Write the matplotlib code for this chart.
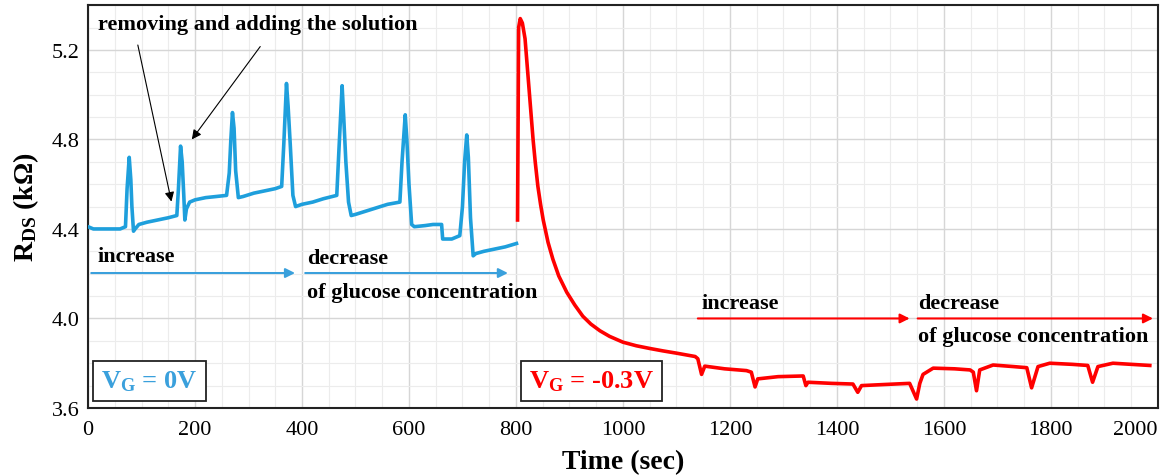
import matplotlib.pyplot as plt
from matplotlib.ticker import MultipleLocator

plt.rcParams['font.family'] = ['Liberation Serif', 'DejaVu Serif']
plt.rcParams['mathtext.fontset'] = 'custom'
plt.rcParams['mathtext.rm'] = 'Liberation Serif'
plt.rcParams['mathtext.bf'] = 'Liberation Serif:bold'
plt.rcParams['mathtext.it'] = 'Liberation Serif:italic'

# V_G = 0V segment
t_blue = [0, 10, 30, 60, 70, 73, 77, 80, 82, 85, 88, 95, 110, 130, 150, 166,
          169, 173, 176, 179, 181, 184, 190, 200, 220, 240, 259, 264, 267, 270,
          273, 276, 281, 290, 310, 330, 350, 362, 366, 371, 374, 378, 383, 388,
          400, 420, 440, 465, 469, 475, 478, 482, 487, 492, 500, 520, 540, 560,
          583, 587, 593, 596, 600, 605, 610, 630, 645, 661, 663, 680, 695, 700,
          704, 708, 711, 715, 720, 725, 740, 760, 780, 801]
r_blue = [4.41, 4.40, 4.40, 4.40, 4.41, 4.58, 4.72, 4.62, 4.50, 4.39, 4.40, 4.42,
          4.43, 4.44, 4.45, 4.46, 4.58, 4.77, 4.70, 4.55, 4.44, 4.49, 4.52, 4.53,
          4.54, 4.545, 4.55, 4.65, 4.80, 4.92, 4.85, 4.66, 4.54, 4.545, 4.56, 4.57,
          4.58, 4.59, 4.78, 5.05, 4.95, 4.78, 4.55, 4.50, 4.51, 4.52, 4.535, 4.55,
          4.75, 5.04, 4.90, 4.70, 4.52, 4.46, 4.465, 4.48, 4.495, 4.51, 4.52, 4.70,
          4.91, 4.80, 4.60, 4.42, 4.41, 4.415, 4.42, 4.42, 4.355, 4.355, 4.37, 4.50,
          4.70, 4.82, 4.72, 4.45, 4.28, 4.29, 4.30, 4.31, 4.32, 4.335]

# V_G = -0.3V segment
t_red = [803, 805, 808, 812, 817, 820, 826, 832, 836, 841, 846, 851, 860, 869,
         880, 895, 910, 925, 940, 957, 975, 1000, 1025, 1050, 1075, 1100, 1135,
         1140, 1147, 1153, 1190, 1231, 1240, 1247, 1252, 1290, 1337, 1342, 1346,
         1390, 1430, 1439, 1446, 1490, 1536, 1549, 1555, 1561, 1580, 1620, 1649,
         1655, 1661, 1667, 1692, 1730, 1755, 1764, 1776, 1798, 1840, 1869, 1878,
         1888, 1916, 1950, 1985]
r_red = [4.44, 5.30, 5.34, 5.32, 5.25, 5.16, 4.98, 4.80, 4.70, 4.59, 4.51, 4.44,
         4.34, 4.265, 4.19, 4.117, 4.06, 4.01, 3.975, 3.945, 3.92, 3.894, 3.878,
         3.866, 3.855, 3.845, 3.83, 3.82, 3.75, 3.787, 3.775, 3.767, 3.76, 3.694,
         3.73, 3.74, 3.743, 3.70, 3.715, 3.71, 3.707, 3.67, 3.70, 3.705, 3.71,
         3.64, 3.71, 3.75, 3.778, 3.775, 3.77, 3.76, 3.677, 3.77, 3.792, 3.785,
         3.78, 3.69, 3.785, 3.80, 3.795, 3.79, 3.715, 3.785, 3.80, 3.795, 3.79]

blue = '#1e9fdc'
red = '#ff0000'

fig = plt.figure(figsize=(11.66, 4.77), dpi=100)
ax = fig.add_axes([0.0755, 0.1426, 0.9175, 0.8445])

ax.plot(t_blue, r_blue, color=blue, lw=2.6, zorder=3)
ax.plot(t_red, r_red, color=red, lw=2.6, zorder=3)

ax.set_xlim(0, 2000)
ax.set_ylim(3.6, 5.4)
ax.set_xticks(range(0, 2001, 200))
ax.xaxis.set_minor_locator(MultipleLocator(50))
ax.yaxis.set_major_locator(MultipleLocator(0.4))
ax.yaxis.set_minor_locator(MultipleLocator(0.1))
ax.grid(which='major', color='#d6d6d6', lw=1.0, zorder=0)
ax.grid(which='minor', color='#ececec', lw=0.8, zorder=0)
ax.set_axisbelow(True)
ax.tick_params(which='both', length=0, labelsize=16)
ax.tick_params(axis='x', pad=9)
ax.tick_params(axis='y', pad=6)
ax.yaxis.set_major_formatter(plt.FormatStrFormatter('%.1f'))
for s in ax.spines.values():
    s.set_linewidth(1.5)
    s.set_color('#222222')

ax.set_xlabel('Time (sec)', fontsize=20, fontweight='bold', labelpad=7)
ax.set_ylabel(r'$\mathbf{R_{DS}}$ (kΩ)', fontsize=20, fontweight='bold', labelpad=8)

# annotations
ax.text(19, 5.314, 'removing and adding the solution', fontsize=16,
        fontweight='bold', va='center')
ax.annotate('', xy=(157, 4.51), xytext=(92, 5.234),
            arrowprops=dict(arrowstyle='-|>', color='black', lw=0.8,
                            mutation_scale=14))
ax.annotate('', xy=(191, 4.79), xytext=(325, 5.225),
            arrowprops=dict(arrowstyle='-|>', color='black', lw=0.8,
                            mutation_scale=14))

arr_kw = dict(arrowstyle='-|>', lw=1.5, mutation_scale=14, shrinkA=0, shrinkB=0)
ax.annotate('', xy=(387, 4.203), xytext=(6, 4.203),
            arrowprops=dict(color='#3aa0dc', **arr_kw))
ax.annotate('', xy=(785, 4.203), xytext=(406, 4.203),
            arrowprops=dict(color='#3aa0dc', **arr_kw))
ax.text(17, 4.28, 'increase', fontsize=16, fontweight='bold', va='center')
ax.text(409, 4.27, 'decrease', fontsize=16, fontweight='bold', va='center')
ax.text(409, 4.12, 'of glucose concentration', fontsize=16, fontweight='bold',
        va='center')

ax.annotate('', xy=(1536, 4.0), xytext=(1140, 4.0),
            arrowprops=dict(color=red, **arr_kw))
ax.annotate('', xy=(1991, 4.0), xytext=(1551, 4.0),
            arrowprops=dict(color=red, **arr_kw))
ax.text(1147, 4.07, 'increase', fontsize=16, fontweight='bold', va='center')
ax.text(1551, 4.07, 'decrease', fontsize=16, fontweight='bold', va='center')
ax.text(1551, 3.92, 'of glucose concentration', fontsize=16, fontweight='bold',
        va='center')

box = dict(boxstyle='square,pad=0.3', fc='white', ec='#222222', lw=1.3)
ax.text(25, 3.72, r'$\mathbf{V_G}$ = 0V', fontsize=19, fontweight='bold',
        color='#3aa0dc', va='center', bbox=box)
ax.text(824, 3.72, r'$\mathbf{V_G}$ = -0.3V', fontsize=19, fontweight='bold',
        color=red, va='center', bbox=box)

fig.canvas.draw()
for tick in ax.xaxis.get_major_ticks():
    if tick.get_loc() == 2000:
        tick.label1.set_horizontalalignment('right')
        tick.label1.set_x(2000)

fig.savefig('out.png', dpi=100)
